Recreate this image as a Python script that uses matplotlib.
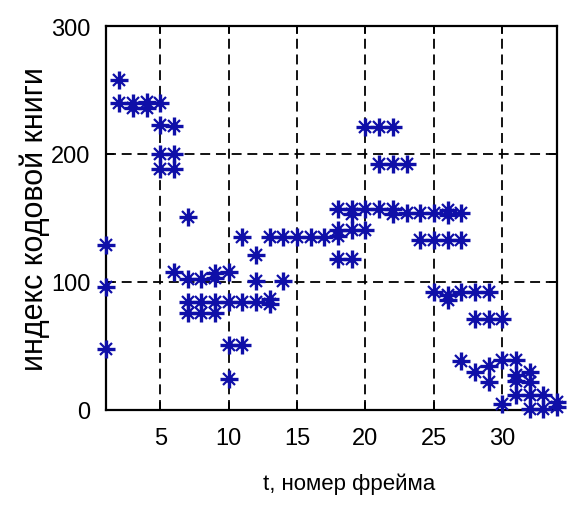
import matplotlib
matplotlib.use("Agg")
import matplotlib.pyplot as plt
from matplotlib import font_manager

# Codebook index chosen for each frame (several candidates per frame)
frame_t = [
    1, 1, 1,
    2, 2,
    3, 3,
    4, 4,
    5, 5, 5, 5,
    6, 6, 6, 6,
    7, 7, 7, 7,
    8, 8, 8,
    9, 9, 9, 9,
    10, 10, 10, 10,
    11, 11, 11,
    12, 12, 12,
    13, 13, 13,
    14, 14,
    15, 16, 17,
    18, 18, 18, 18,
    19, 19, 19, 19,
    20, 20, 20,
    21, 21, 21,
    22, 22, 22, 22,
    23, 23,
    24, 24,
    25, 25, 25,
    26, 26, 26, 26, 26,
    27, 27, 27, 27,
    28, 28, 28,
    29, 29, 29, 29,
    30, 30, 30,
    31, 31, 31, 31,
    32, 32, 32, 32,
    33, 33,
    34, 34,
]
codebook_index = [
    129, 96, 48,
    258, 240,
    236, 240,
    236, 241,
    240, 223, 200, 188,
    222, 200, 188, 108,
    151, 102, 84, 76,
    102, 84, 76,
    103, 107, 84, 76,
    108, 84, 51, 24,
    135, 84, 51,
    121, 101, 84,
    135, 83, 87,
    135, 101,
    135, 135, 135,
    157, 136, 141, 118,
    153, 157, 141, 118,
    221, 157, 141,
    221, 192, 157,
    221, 192, 153, 157,
    192, 154,
    154, 133,
    154, 133, 92,
    152, 156, 133, 86, 90,
    154, 133, 92, 38,
    92, 71, 30,
    92, 71, 34, 22,
    71, 39, 5,
    39, 23, 27, 12,
    30, 22, 12, 1,
    12, 1,
    2, 6,
]

x_ticks = [5, 10, 15, 20, 25, 30]
y_ticks = [0, 100, 200, 300]
x_label = "t, номер фрейма"
y_label = "индекс кодовой книги"


def pick_narrow_family():
    # prefer a narrow sans face for the tick labels if one is present
    for key in ("LiberationSansNarrow-Regular", "LiberationSansNarrow", "ArialNarrow"):
        for path in font_manager.findSystemFonts():
            if key.lower() in path.replace("-", "").lower().replace("regular", "") or \
               key.lower() in path.lower():
                if "bold" in path.lower() or "italic" in path.lower():
                    continue
                font_manager.fontManager.addfont(path)
                return font_manager.FontProperties(fname=path).get_name(), True
    return "Liberation Sans", False


narrow, is_narrow = pick_narrow_family()
plt.rcParams["font.family"] = [narrow, "DejaVu Sans"]
tick_size = 20 if is_narrow else 17
xlab_size = 18 if is_narrow else 16

W, H = 571, 506
fig = plt.figure(figsize=(W / 100, H / 100), dpi=100)
left, right, top, bottom = 105.6, 557.0, 27.0, 411.0
ax = fig.add_axes([left / W, 1 - bottom / H, (right - left) / W, (bottom - top) / H])

mark_color = "#0f0fa8"
# asterisk marker: long plus arms, shorter diagonals, solid centre
ax.plot(frame_t, codebook_index, linestyle="none", marker="+", markersize=12.5,
        markeredgewidth=2.4, color=mark_color, zorder=3, clip_on=False)
ax.plot(frame_t, codebook_index, linestyle="none", marker="x", markersize=8.5,
        markeredgewidth=1.6, color=mark_color, zorder=3, clip_on=False)
ax.plot(frame_t, codebook_index, linestyle="none", marker="o", markersize=5.5,
        markeredgewidth=0, color=mark_color, zorder=4, clip_on=False)

ax.set_xlim(1, 34)
ax.set_ylim(0, 300)
ax.set_xticks(x_ticks)
ax.set_yticks(y_ticks)
ax.tick_params(direction="in", length=6, width=1.3, labelsize=tick_size, pad=12,
               top=True, right=True, colors="black")
ax.tick_params(axis="y", pad=11)

ax.grid(True, color="black", linestyle=(0, (5.5, 3.2)), linewidth=1.3)
ax.set_axisbelow(True)
for s in ax.spines.values():
    s.set_linewidth(1.6)
    s.set_color("black")

ax.set_xlabel(x_label, fontsize=xlab_size, family=[narrow, "DejaVu Sans"])
ax.xaxis.label.set_va("top")
ax.xaxis.set_label_coords(0.539, -0.164)

ax.set_ylabel(y_label, fontsize=22, family=["Liberation Sans", "DejaVu Sans"])
ax.yaxis.label.set_va("center")
ax.yaxis.set_label_coords(-0.158, 0.5)

fig.savefig("out.png", dpi=100, facecolor="white")
